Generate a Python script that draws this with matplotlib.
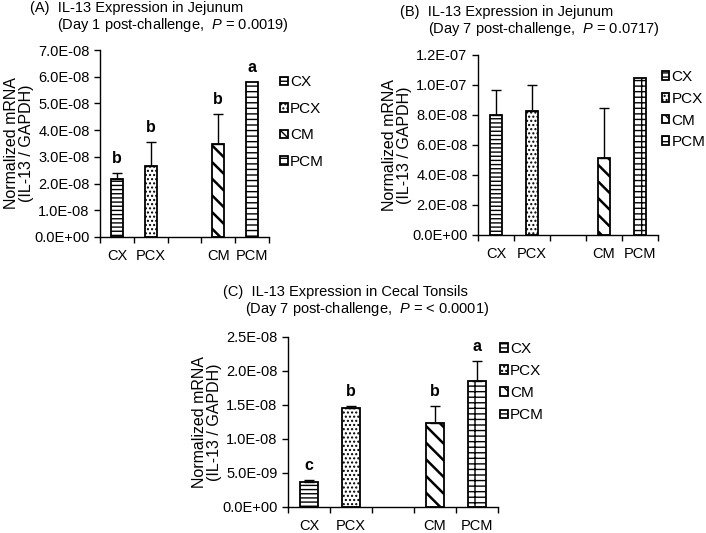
import numpy as np
import matplotlib
matplotlib.use("Agg")
import matplotlib.pyplot as plt
from matplotlib.ticker import FuncFormatter

plt.rcParams['font.family'] = ['Liberation Sans', 'DejaVu Sans']
plt.rcParams['mathtext.fontset'] = 'custom'
plt.rcParams['mathtext.rm'] = 'Liberation Sans'
plt.rcParams['mathtext.it'] = 'Liberation Sans:italic'
plt.rcParams['hatch.linewidth'] = 1.0

# data
groups = ['CX', 'PCX', 'CM', 'PCM']
slots = [0, 1, 3, 4]   # empty slot between the two pairs

a_mean = [2.17e-8, 2.67e-8, 3.47e-8, 5.82e-8]
a_sd = [0.22e-8, 0.9e-8, 1.13e-8, 0]
a_letters = ['b', 'b', 'b', 'a']

b_mean = [8.0e-8, 8.27e-8, 5.16e-8, 1.05e-7]
b_sd = [1.67e-8, 1.73e-8, 3.28e-8, 0]

c_mean = [3.7e-9, 1.46e-8, 1.235e-8, 1.86e-8]
c_sd = [0.3e-9, 0.2e-9, 2.45e-9, 2.9e-9]
c_letters = ['c', 'b', 'b', 'a']

hatches = ['----', '....', '\\\\', '+--']
hatch_lw = [1.0, 1.0, 1.8, 1.0]

fig = plt.figure(figsize=(7.06, 5.33), dpi=100)
W, H = 706, 533


def sci(v, pos):
    return f"{v:.1E}"


def axes_px(left, right, top, bottom):
    return fig.add_axes([left / W, 1 - bottom / H, (right - left) / W, (bottom - top) / H])


def panel(ax, mean, sd, letters, ymax, ystep, width, leg_x, leg_y, leg_sp):
    bars = ax.bar(slots, mean, width=width, color='white', edgecolor='black',
                  linewidth=1.3)
    for b, h, lw, g in zip(bars, hatches, hatch_lw, groups):
        b.set_hatch(h)
        if hasattr(b, 'set_hatch_linewidth'):
            b.set_hatch_linewidth(lw)
        b.set_label(g)
    for x, m, s in zip(slots, mean, sd):
        if s > 0:
            ax.errorbar(x, m, yerr=[[0], [s]], fmt='none', ecolor='black',
                        elinewidth=1.0, capsize=3.5, capthick=1.0)
    if letters:
        for x, m, s, t in zip(slots, mean, sd, letters):
            ax.annotate(t, (x, m + s), xytext=(0, 5), textcoords='offset points',
                        ha='center', va='bottom', fontsize=11.5, fontweight='bold')
    ax.set_xlim(-0.5, 4.5)
    ax.set_ylim(0, ymax)
    ax.set_yticks(np.arange(0, ymax + ystep / 2, ystep))
    ax.yaxis.set_major_formatter(FuncFormatter(sci))
    ax.set_xticks(slots)
    ax.set_xticklabels(groups)
    ax.set_xticks(np.arange(-0.5, 5, 1), minor=True)
    ax.tick_params(axis='x', which='major', length=0, labelsize=10.5, pad=9)
    ax.tick_params(axis='x', which='minor', length=4, width=1)
    ax.tick_params(axis='y', length=4, width=1, labelsize=10.5)
    for s in ['top', 'right']:
        ax.spines[s].set_visible(False)
    for s in ['left', 'bottom']:
        ax.spines[s].set_linewidth(1)
    ax.legend(handles=list(bars), loc='center left', bbox_to_anchor=(leg_x, leg_y),
              frameon=False, fontsize=11, handlelength=0.5, handleheight=0.5,
              handletextpad=0.15, labelspacing=leg_sp, borderpad=0, borderaxespad=0)


axA = axes_px(100, 269, 50, 237)
panel(axA, a_mean, a_sd, a_letters, 7e-8, 1e-8, 0.35, 1.065, 0.614, 0.82)

axB = axes_px(478, 658, 55, 235)
panel(axB, b_mean, b_sd, None, 1.2e-7, 2e-8, 0.33, 1.02, 0.696, 0.5)

axC = axes_px(288, 498, 337, 507)
panel(axC, c_mean, c_sd, c_letters, 2.5e-8, 5e-9, 0.43, 1.01, 0.734, 0.53)

titles = [
    (30, 8, '(A)  IL-13 Expression in Jejunum'),
    (57, 25, '(Day 1 post-challenge,  $\\mathit{P}$ = 0.0019)'),
    (400, 12, '(B)  IL-13 Expression in Jejunum'),
    (428, 29, '(Day 7 post-challenge,  $\\mathit{P}$ = 0.0717)'),
    (223, 292, '(C)  IL-13 Expression in Cecal Tonsils'),
    (245, 309, '(Day 7 post-challenge,  $\\mathit{P}$ = < 0.0001)'),
]
for x, y, t in titles:
    fig.text(x / W, 1 - y / H, t, ha='left', va='center', fontsize=10.5)

# y axis titles, placed by hand like the original
ylab = 'Normalized mRNA\n(IL-13 / GAPDH)'
for x, y in [(19, 143), (397, 145), (207, 422)]:
    fig.text(x / W, 1 - y / H, ylab, rotation=90, ha='center', va='center',
             fontsize=11.5, linespacing=1.0)

fig.savefig('out.png', dpi=100)
